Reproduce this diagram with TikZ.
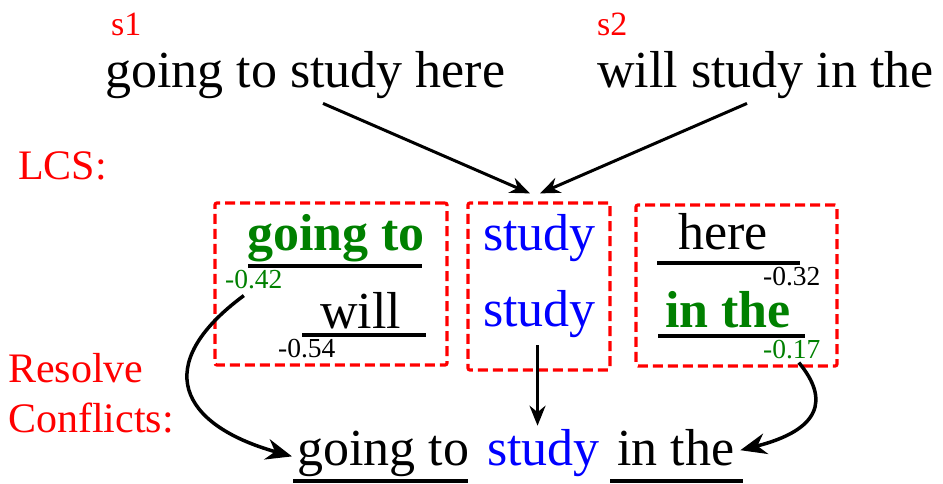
\documentclass[tikz,border=0pt]{standalone}
\usepackage{fontspec}
\setmainfont{Liberation Serif}
\usetikzlibrary{arrows.meta}
\definecolor{lcsred}{RGB}{255,0,0}
\definecolor{keepgreen}{RGB}{0,128,0}
\definecolor{midblue}{RGB}{0,0,255}

\begin{document}
\begin{tikzpicture}[x=1pt, y=-1pt,
  word/.style={anchor=base west, inner sep=0pt, font=\fontsize{52}{60}\selectfont},
  strong/.style={word, text=keepgreen, font=\fontsize{52}{60}\selectfont\bfseries},
  tag/.style={anchor=base west, inner sep=0pt, text=lcsred, font=\fontsize{42}{48}\selectfont},
  score/.style={anchor=base west, inner sep=0pt, font=\fontsize{27.5}{32}\selectfont},
  grp/.style={draw=lcsred, line width=3.2pt, dash pattern=on 10pt off 5pt, rounded corners=2pt,
              inner sep=0pt},
  uline/.style={line width=4pt},
  arr/.style={-{Stealth[length=20pt,width=16pt]}, line width=3pt},
  bigarr/.style={-{Stealth[length=26pt,width=21pt]}, line width=3.5pt},
]
\useasboundingbox (0,0) rectangle (943,484);

% input sentences
\node[tag, font=\fontsize{34}{40}\selectfont] (s1) at (111,36) {s1};
\node[word] (sent1) at (105,88) {going to study here};
\node[tag, font=\fontsize{34}{40}\selectfont] (s2) at (597,36) {s2};
\node[word] (sent2) at (597,88) {will study in the};

\node[tag] (lcs) at (18,179) {LCS:};
\node[tag] (res1) at (8,382) {Resolve};
\node[tag] (res2) at (8,432) {Conflicts:};

% groups
\node[grp, minimum width=232pt, minimum height=162pt] (b1) at (331,284) {};
\node[grp, minimum width=142pt, minimum height=167pt] (b2) at (539,286.5) {};
\node[grp, minimum width=201pt, minimum height=161pt] (b3) at (736.5,285.5) {};

\node[strong] (gt) at (247,250) {going to};
\node[score, text=keepgreen] (n42) at (225,288) {-0.42};
\node[word] (wl) at (320,328) {will};
\node[score] (n54) at (278,357) {-0.54};
\draw[uline] (248,266) -- (422,266);
\draw[uline] (302,335) -- (426,335);

\node[word, text=midblue] (st1) at (483,250) {study};
\node[word, text=midblue] (st2) at (483,326) {study};

\node[word] (hr) at (678,249) {here};
\node[score] (n32) at (763,285) {-0.32};
\node[strong] (it) at (665,327) {in the};
\node[score, text=keepgreen] (n17) at (763,358) {-0.17};
\draw[uline] (657,263) -- (800,263);
\draw[uline] (658,336) -- (805,336);

% result
\node[word] (fgo) at (297,465) {going to};
\node[word, text=midblue] (fst) at (487,465) {study};
\node[word] (fin) at (617,465) {in the};
\draw[uline] (293,481) -- (468,481);
\draw[uline] (610,481) -- (743,481);

\draw[arr] ([xshift=218pt,yshift=-4pt]sent1.south west) -- ([xshift=-9pt,yshift=8pt]b2.north);
\draw[arr] ([xshift=150pt,yshift=-4pt]sent2.south west) -- ([xshift=1pt,yshift=8pt]b2.north);
\draw[arr, shorten <=8pt, shorten >=3pt] ([xshift=-2pt]st2.south) -- ([xshift=-6pt]fst.north);
\draw[bigarr] ([xshift=-10pt,yshift=-7pt]n42.south) .. controls (150,365) and (180,425) .. ([xshift=-5pt,yshift=-3pt]fgo.west);
\draw[bigarr] ([xshift=7pt,yshift=-4pt]n17.south) .. controls (830,400) and (820,430) .. ([xshift=6pt,yshift=-3pt]fin.east);
\end{tikzpicture}
\end{document}
